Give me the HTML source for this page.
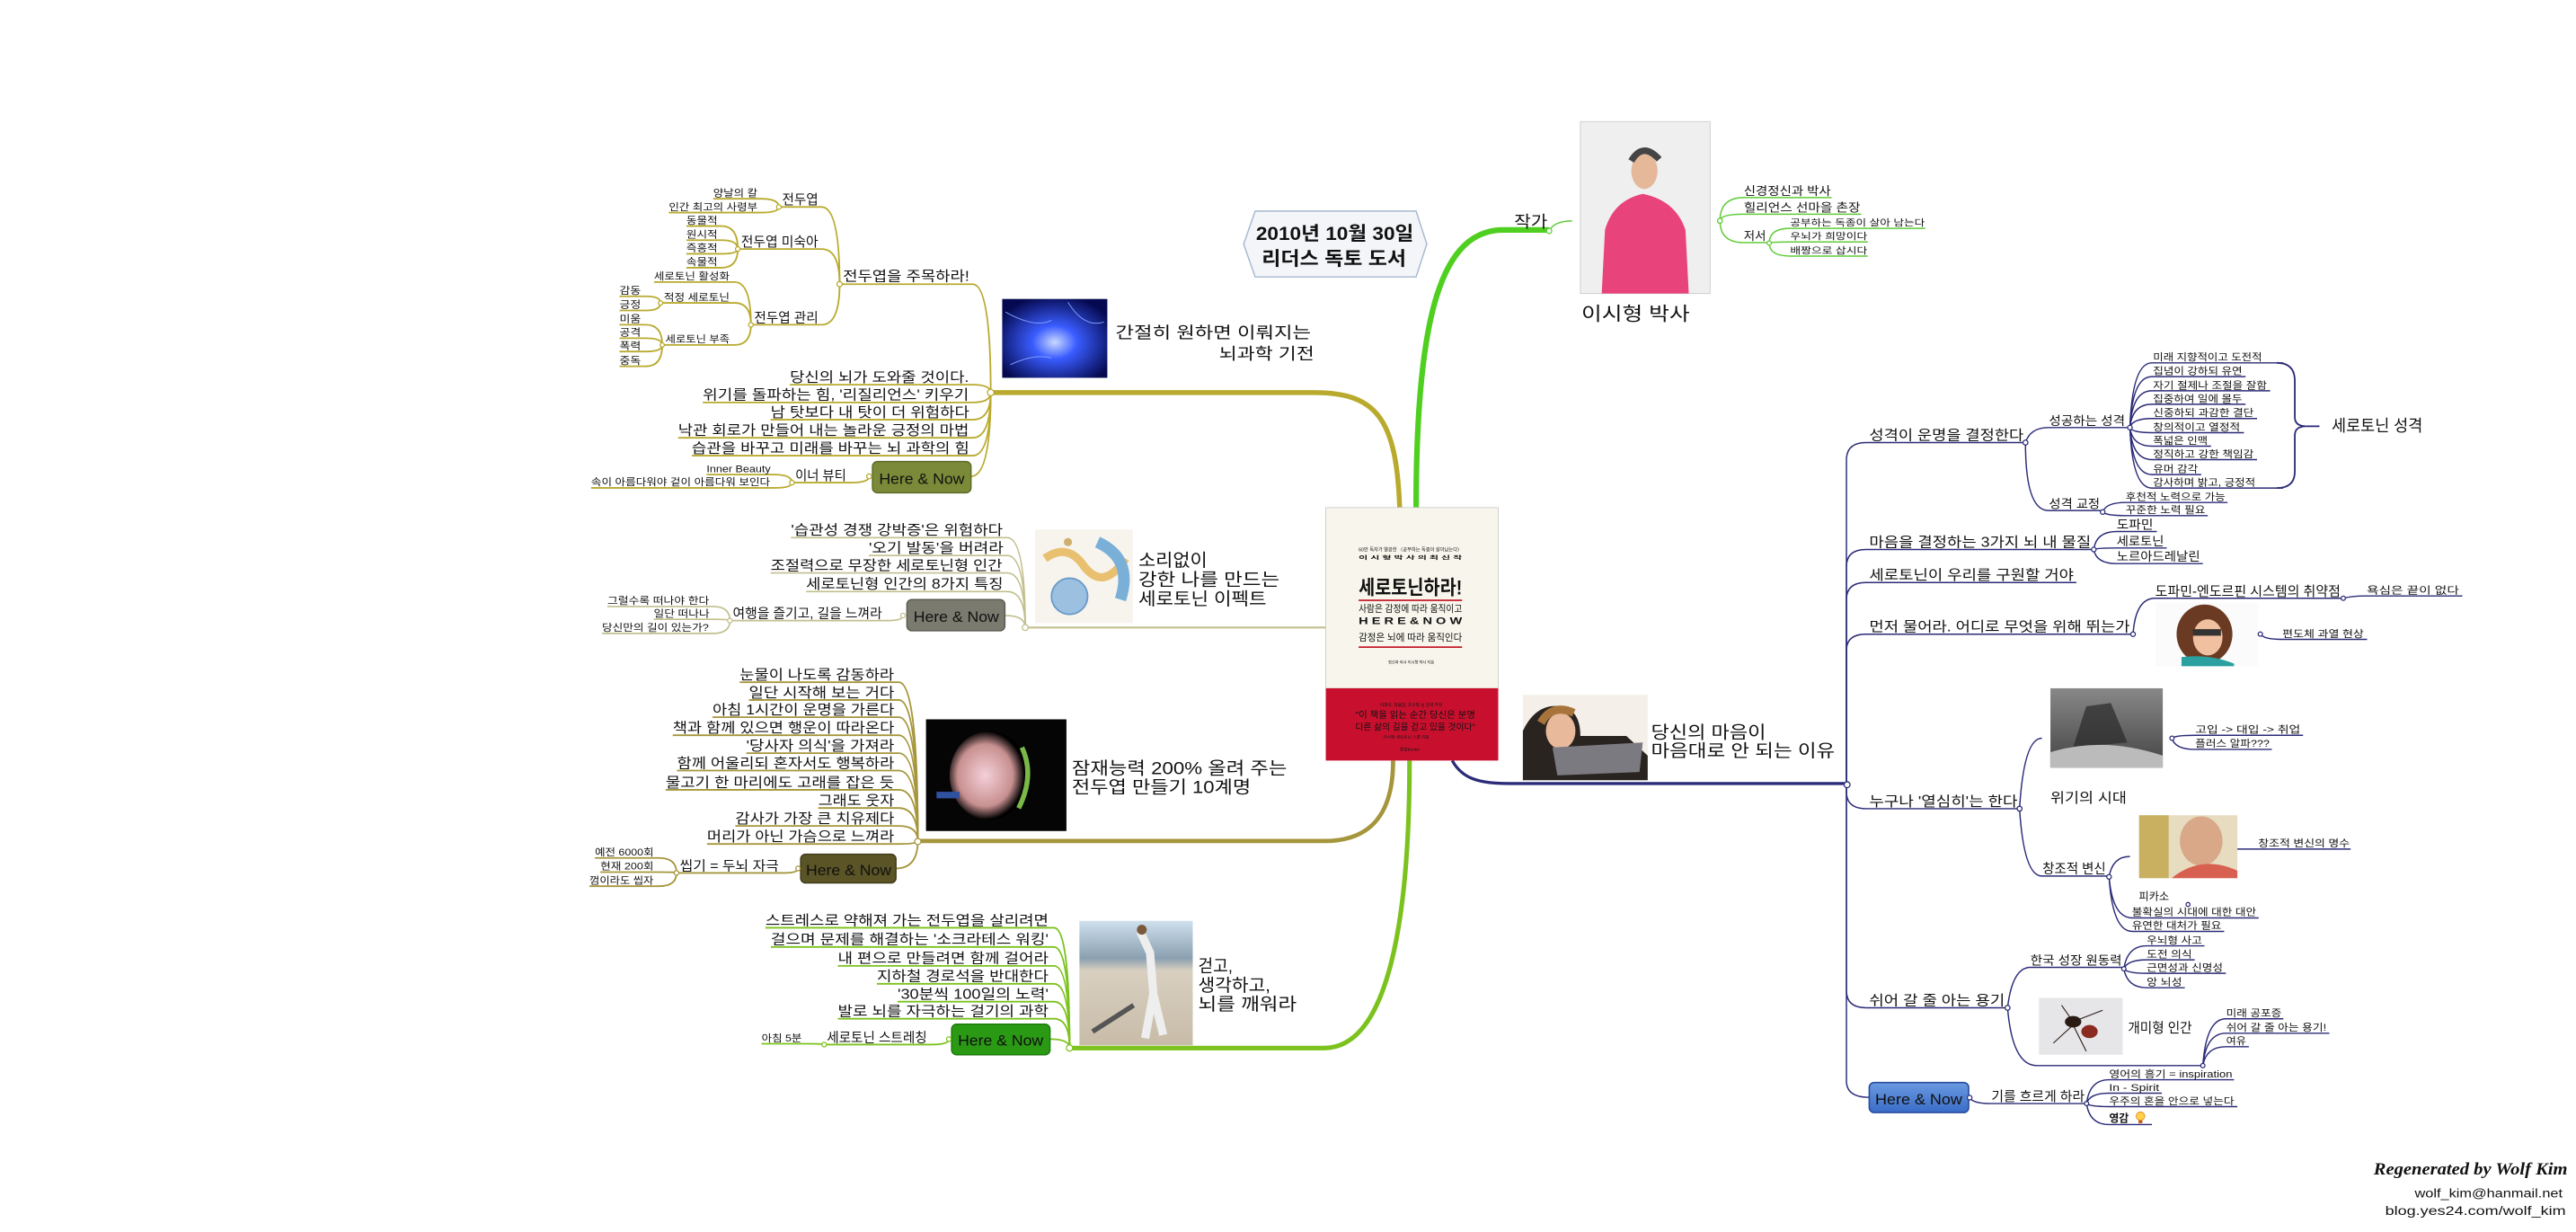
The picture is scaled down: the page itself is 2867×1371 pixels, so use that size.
<!DOCTYPE html>
<html><head><meta charset="utf-8">
<style>
html,body{margin:0;padding:0;background:#fff;}
svg{display:block;}
text{font-family:"Liberation Sans","Noto Sans CJK KR","NanumGothic",sans-serif;fill:#111;}
.a{fill:none;stroke:#b9aa2e;stroke-width:1;}
.b{fill:none;stroke:#c2bf8e;stroke-width:0.9;}
.c{fill:none;stroke:#a5963c;stroke-width:1;}
.d{fill:none;stroke:#7cc21e;stroke-width:1;}
.e{fill:none;stroke:#5fcc38;stroke-width:0.8;}
.f{fill:none;stroke:#2b2b78;stroke-width:0.8;}
.n{fill:#fff;stroke-width:0.7;}
</style></head>
<body>
<svg width="2867" height="1371" viewBox="0 0 1568 750" xmlns="http://www.w3.org/2000/svg">
<defs>
<radialGradient id="gb" cx="0.5" cy="0.55" r="0.6"><stop offset="0" stop-color="#c8d8ff"/><stop offset="0.35" stop-color="#3a5cff"/><stop offset="1" stop-color="#050a50"/></radialGradient>
<radialGradient id="gk" cx="0.45" cy="0.5" r="0.5"><stop offset="0" stop-color="#f4d0d8"/><stop offset="0.7" stop-color="#c89090"/><stop offset="1" stop-color="#000"/></radialGradient>
<linearGradient id="gr" x1="0" y1="0" x2="0" y2="1"><stop offset="0" stop-color="#cfe0ee"/><stop offset="0.3" stop-color="#8aa0b0"/><stop offset="0.4" stop-color="#d8cfc0"/><stop offset="1" stop-color="#c8bca8"/></linearGradient>
<linearGradient id="gs" x1="0" y1="0" x2="0" y2="1"><stop offset="0" stop-color="#888"/><stop offset="1" stop-color="#444"/></linearGradient>
<linearGradient id="hb" x1="0" y1="0" x2="0" y2="1"><stop offset="0" stop-color="#6a9ae0"/><stop offset="1" stop-color="#3a6cc8"/></linearGradient>
</defs>

<!-- ===== Title box ===== -->
<polygon points="757,148.6 764,128.5 862,128.5 868.5,148.6 862,168.6 764,168.6" fill="#f3f5f8" stroke="#a8b8d0" stroke-width="0.8"/>
<text x="764.5" y="146" font-size="11.5" font-weight="bold" textLength="96" lengthAdjust="spacingAndGlyphs">2010년 10월 30일</text>
<text x="768" y="161.5" font-size="11.5" font-weight="bold" textLength="88" lengthAdjust="spacingAndGlyphs">리더스 독토 도서</text>

<!-- ===== Main branches ===== -->
<path d="M852 309 C850 255 838 239 800 239 L603 239" fill="none" stroke="#b9aa2e" stroke-width="3"/>
<path d="M624 382 L807 382" fill="none" stroke="#c2bf8e" stroke-width="1.2"/>
<path d="M848 463 C848 495 835 512 806 512 L558.6 512" fill="none" stroke="#a5963c" stroke-width="2.6"/>
<path d="M858 463 C858 560 845 638 806 638 L651 638" fill="none" stroke="#7cc21e" stroke-width="2.8"/>
<path d="M862 309 C862 190 878 140 915 140 L943 140" fill="none" stroke="#4fcf1f" stroke-width="3.4"/>
<path d="M884 463 C890 474 900 477 919 477 L1124 477" fill="none" stroke="#2b2b78" stroke-width="1.8"/>

<!-- ===== Book ===== -->
<rect x="807" y="309" width="105" height="110" fill="#f8f6ec" stroke="#ccc" stroke-width="0.5"/>
<rect x="807" y="419" width="105" height="44" fill="#c8102e"/>
<text x="827" y="335.5" font-size="3" fill="#b02020" textLength="63" lengthAdjust="spacingAndGlyphs">60만 독자가 열광한 〈공부하는 독종이 살아남는다〉</text>
<text x="827" y="340.5" font-size="3.2" font-weight="bold" fill="#333" textLength="63" lengthAdjust="spacingAndGlyphs">이 시 형  박 사 의  최 신 작</text>
<text x="827" y="362" font-size="12" font-weight="bold" fill="#d0152a" textLength="63" lengthAdjust="spacingAndGlyphs">세로토닌하라!</text>
<rect x="827" y="365" width="63" height="0.9" fill="#c01020"/>
<text x="827" y="372.5" font-size="6" fill="#333" textLength="63" lengthAdjust="spacingAndGlyphs">사람은 감정에 따라 움직이고</text>
<text x="827" y="380" font-size="6" font-weight="bold" fill="#c01020" textLength="63" lengthAdjust="spacingAndGlyphs">H E R E &amp; N O W</text>
<text x="827" y="390" font-size="6" fill="#333" textLength="63" lengthAdjust="spacingAndGlyphs">감정은 뇌에 따라 움직인다</text>
<rect x="827" y="393.5" width="63" height="0.9" fill="#c01020"/>
<text x="845" y="404" font-size="2.5" fill="#777" textLength="28" lengthAdjust="spacingAndGlyphs">정신과 의사 이시형 박사 지음</text>
<text x="840" y="430" font-size="2.5" fill="#fdd" textLength="38" lengthAdjust="spacingAndGlyphs">이희아, 최불암, 조선철 님 강력 추천</text>
<text x="825" y="437" font-size="5.5" fill="#fff" textLength="73" lengthAdjust="spacingAndGlyphs">"이 책을 읽는 순간 당신은 분명</text>
<text x="825" y="444.5" font-size="5.5" fill="#fff" textLength="73" lengthAdjust="spacingAndGlyphs">다른 삶의 길을 걷고 있을 것이다"</text>
<text x="842" y="449.5" font-size="2.3" fill="#fdd" textLength="28" lengthAdjust="spacingAndGlyphs">이시형 세로토닌 스쿨 지음</text>
<text x="852" y="457" font-size="2.5" fill="#fdd" textLength="12" lengthAdjust="spacingAndGlyphs">중앙books</text>

<!-- ===== Branch 1 (olive) ===== -->
<rect x="610" y="182" width="64" height="48" fill="url(#gb)"/>
<path d="M612 190 Q630 200 640 195 M650 184 Q660 200 672 196 M615 222 Q630 215 640 218" stroke="#7fa0ff" stroke-width="0.5" fill="none"/>
<text x="679" y="206" font-size="10" textLength="119" lengthAdjust="spacingAndGlyphs">간절히 원하면 이뤄지는</text>
<text x="742" y="218.8" font-size="10" textLength="58" lengthAdjust="spacingAndGlyphs">뇌과학 기전</text>

<path class="a" d="M511 173 L592 173 Q603 173 603 239"/>
<text x="513" y="171" font-size="8.5" textLength="77" lengthAdjust="spacingAndGlyphs">전두엽을 주목하라!</text>
<path class="a" d="M480.7 234.2 L592 234.2 Q603 234.2 603 239"/>
<text x="480.7" y="232.5" font-size="8.5" textLength="109" lengthAdjust="spacingAndGlyphs">당신의 뇌가 도와줄 것이다.</text>
<path class="a" d="M427.7 245 L592 245 Q603 245 603 239"/>
<text x="427.7" y="243.3" font-size="8.5" textLength="162" lengthAdjust="spacingAndGlyphs">위기를 돌파하는 힘, '리질리언스' 키우기</text>
<path class="a" d="M469 255.5 L592 255.5 Q603 255.5 603 239"/>
<text x="469" y="253.8" font-size="8.5" textLength="121" lengthAdjust="spacingAndGlyphs">남 탓보다 내 탓이 더 위험하다</text>
<path class="a" d="M412.7 266.5 L592 266.5 Q603 266.5 603 239"/>
<text x="412.7" y="264.8" font-size="8.5" textLength="177" lengthAdjust="spacingAndGlyphs">낙관 회로가 만들어 내는 놀라운 긍정의 마법</text>
<path class="a" d="M421 277.4 L592 277.4 Q603 277.4 603 239"/>
<text x="421" y="275.7" font-size="8.5" textLength="169" lengthAdjust="spacingAndGlyphs">습관을 바꾸고 미래를 바꾸는 뇌 과학의 힘</text>
<path class="a" d="M591 290 Q603 290 603 239"/>
<rect x="531" y="281" width="60" height="19" rx="3" fill="#7a8a38" stroke="#5d6b26" stroke-width="0.8"/>
<text x="535" y="294.5" font-size="9" fill="#fff" textLength="52" lengthAdjust="spacingAndGlyphs">Here &amp; Now</text>

<path class="a" d="M474 126 L500 126 Q511 126 511 173"/>
<text x="476" y="124.3" font-size="8" textLength="22" lengthAdjust="spacingAndGlyphs">전두엽</text>
<path class="a" d="M434 121 L463 121 Q474 121 474 126"/>
<text x="434" y="119.5" font-size="6" textLength="27" lengthAdjust="spacingAndGlyphs">양날의 칼</text>
<path class="a" d="M407 129.4 L463 129.4 Q474 129.4 474 126"/>
<text x="407" y="127.9" font-size="6" textLength="54" lengthAdjust="spacingAndGlyphs">인간 최고의 사령부</text>

<path class="a" d="M449 151.6 L500 151.6 Q511 151.6 511 173"/>
<text x="451" y="149.9" font-size="8" textLength="47" lengthAdjust="spacingAndGlyphs">전두엽 미숙아</text>
<path class="a" d="M417.7 137.6 L439 137.6 Q449 137.6 449 151.6"/>
<text x="417.7" y="136.1" font-size="6" textLength="19" lengthAdjust="spacingAndGlyphs">동물적</text>
<path class="a" d="M417.7 146.2 L439 146.2 Q449 146.2 449 151.6"/>
<text x="417.7" y="144.7" font-size="6" textLength="19" lengthAdjust="spacingAndGlyphs">원시적</text>
<path class="a" d="M417.7 154.5 L439 154.5 Q449 154.5 449 151.6"/>
<text x="417.7" y="153" font-size="6" textLength="19" lengthAdjust="spacingAndGlyphs">즉흥적</text>
<path class="a" d="M417.7 163 L439 163 Q449 163 449 151.6"/>
<text x="417.7" y="161.5" font-size="6" textLength="19" lengthAdjust="spacingAndGlyphs">속물적</text>

<path class="a" d="M457 197.7 L500 197.7 Q511 197.7 511 173"/>
<text x="459" y="196" font-size="8" textLength="39" lengthAdjust="spacingAndGlyphs">전두엽 관리</text>
<path class="a" d="M398 171.7 L447 171.7 Q457 171.7 457 197.7"/>
<text x="398" y="170.2" font-size="6" textLength="46" lengthAdjust="spacingAndGlyphs">세로토닌 활성화</text>
<path class="a" d="M402 184.4 L447 184.4 Q457 184.4 457 197.7"/>
<text x="404" y="182.9" font-size="6" textLength="40" lengthAdjust="spacingAndGlyphs">적정 세로토닌</text>
<path class="a" d="M403 210 L447 210 Q457 210 457 197.7"/>
<text x="405" y="208.5" font-size="6" textLength="39" lengthAdjust="spacingAndGlyphs">세로토닌 부족</text>
<path class="a" d="M377 180.4 L393 180.4 Q402 180.4 402 184.4"/>
<text x="377" y="178.9" font-size="6" textLength="13" lengthAdjust="spacingAndGlyphs">감동</text>
<path class="a" d="M377 189 L393 189 Q402 189 402 184.4"/>
<text x="377" y="187.5" font-size="6" textLength="13" lengthAdjust="spacingAndGlyphs">긍정</text>
<path class="a" d="M377 197.7 L393 197.7 Q403 197.7 403 210"/>
<text x="377" y="196.2" font-size="6" textLength="13" lengthAdjust="spacingAndGlyphs">미움</text>
<path class="a" d="M377 205.9 L393 205.9 Q403 205.9 403 210"/>
<text x="377" y="204.4" font-size="6" textLength="13" lengthAdjust="spacingAndGlyphs">공격</text>
<path class="a" d="M377 214 L393 214 Q403 214 403 210"/>
<text x="377" y="212.5" font-size="6" textLength="13" lengthAdjust="spacingAndGlyphs">폭력</text>
<path class="a" d="M377 223 L393 223 Q403 223 403 210"/>
<text x="377" y="221.5" font-size="6" textLength="13" lengthAdjust="spacingAndGlyphs">중독</text>

<path class="a" d="M482 293.8 L518 293.8 Q529 293.8 529 290"/>
<text x="484" y="292.1" font-size="8" textLength="31" lengthAdjust="spacingAndGlyphs">이너 뷰티</text>
<path class="a" d="M430 288.9 L471 288.9 Q482 288.9 482 293.8"/>
<text x="430" y="287.4" font-size="6" textLength="39" lengthAdjust="spacingAndGlyphs">Inner Beauty</text>
<path class="a" d="M359.7 297 L471 297 Q482 297 482 293.8"/>
<text x="359.7" y="295.5" font-size="6" textLength="109" lengthAdjust="spacingAndGlyphs">속이 아름다워야 겉이 아름다워 보인다</text>
<g fill="#fff" stroke="#b9aa2e" stroke-width="0.7">
<circle cx="603" cy="239" r="2"/><circle cx="511" cy="173" r="1.6"/><circle cx="474" cy="126" r="1.4"/><circle cx="449" cy="151.6" r="1.4"/><circle cx="457" cy="197.7" r="1.4"/><circle cx="402" cy="184.4" r="1.3"/><circle cx="403" cy="210" r="1.3"/><circle cx="529" cy="290" r="1.5"/><circle cx="482" cy="293.8" r="1.4"/>
</g>

<!-- ===== Branch 2 ===== -->
<rect x="630" y="322.3" width="59.5" height="57" fill="#f7f4ee"/>
<path d="M636 340 Q650 330 660 345 Q672 360 685 340" stroke="#e8c070" stroke-width="5" fill="none"/>
<path d="M668 330 Q690 340 682 365" stroke="#7ab0d8" stroke-width="7" fill="none"/>
<circle cx="651" cy="363" r="11" fill="#9cc0e0" stroke="#6a9ac8" stroke-width="1"/>
<circle cx="650" cy="330" r="2.5" fill="#d0b070"/>
<text x="692.9" y="344.6" font-size="10.5" textLength="42" lengthAdjust="spacingAndGlyphs">소리없이</text>
<text x="692.9" y="356.4" font-size="10.5" textLength="86" lengthAdjust="spacingAndGlyphs">강한 나를 만드는</text>
<text x="692.9" y="368.3" font-size="10.5" textLength="78" lengthAdjust="spacingAndGlyphs">세로토닌 이펙트</text>

<path class="b" d="M481.4 327.3 L613 327.3 Q624 327.3 624 382"/>
<text x="481.4" y="325.6" font-size="8.5" textLength="129" lengthAdjust="spacingAndGlyphs">'습관성 경쟁 강박증'은 위험하다</text>
<path class="b" d="M528.8 338.2 L613 338.2 Q624 338.2 624 382"/>
<text x="528.8" y="336.5" font-size="8.5" textLength="82" lengthAdjust="spacingAndGlyphs">'오기 발동'을 버려라</text>
<path class="b" d="M469 348.8 L613 348.8 Q624 348.8 624 382"/>
<text x="469" y="347.1" font-size="8.5" textLength="141" lengthAdjust="spacingAndGlyphs">조절력으로 무장한 세로토닌형 인간</text>
<path class="b" d="M490.6 360.1 L613 360.1 Q624 360.1 624 382"/>
<text x="490.6" y="358.4" font-size="8.5" textLength="120" lengthAdjust="spacingAndGlyphs">세로토닌형 인간의 8가지 특징</text>
<path class="b" d="M611.6 374.7 Q624 374.7 624 382"/>
<rect x="552" y="365" width="59.6" height="19" rx="3" fill="#7a7a6e" stroke="#5a5a50" stroke-width="0.8"/>
<text x="556" y="378.5" font-size="9" fill="#fff" textLength="52" lengthAdjust="spacingAndGlyphs">Here &amp; Now</text>
<path class="b" d="M444.2 377.8 L540 377.8 Q549.6 377.8 549.6 374.7"/>
<text x="445.9" y="376.1" font-size="8" textLength="91" lengthAdjust="spacingAndGlyphs">여행을 즐기고, 길을 느껴라</text>
<path class="b" d="M369.6 369.2 L434 369.2 Q444.2 369.2 444.2 377.8"/>
<text x="369.6" y="367.7" font-size="6" textLength="62" lengthAdjust="spacingAndGlyphs">그럴수록 떠나야 한다</text>
<path class="b" d="M397.8 377 L434 377 Q444.2 377 444.2 377.8"/>
<text x="397.8" y="375.5" font-size="6" textLength="34" lengthAdjust="spacingAndGlyphs">일단 떠나나</text>
<path class="b" d="M366.3 385.6 L434 385.6 Q444.2 385.6 444.2 377.8"/>
<text x="366.3" y="384.1" font-size="6" textLength="65" lengthAdjust="spacingAndGlyphs">당신만의 길이 있는가?</text>
<g fill="#fff" stroke="#c2bf8e" stroke-width="0.7"><circle cx="624" cy="382" r="1.8"/><circle cx="549.6" cy="374.7" r="1.4"/><circle cx="444.2" cy="377.8" r="1.4"/></g>

<!-- ===== Branch 3 ===== -->
<rect x="563.6" y="437.9" width="85.5" height="68" fill="#050505"/>
<ellipse cx="602" cy="472" rx="24" ry="27" fill="url(#gk)"/>
<path d="M622 455 Q630 472 620 492" stroke="#7ab848" stroke-width="3" fill="none"/>
<rect x="570" y="482" width="14" height="4" fill="#3050a0"/>
<text x="652.4" y="471.3" font-size="10.5" textLength="131" lengthAdjust="spacingAndGlyphs">잠재능력 200% 올려 주는</text>
<text x="652.4" y="482.8" font-size="10.5" textLength="109" lengthAdjust="spacingAndGlyphs">전두엽 만들기 10계명</text>

<path class="c" d="M450.2 415.3 L547 415.3 Q558.6 415.3 558.6 512"/>
<text x="450.2" y="413.6" font-size="8.5" textLength="94" lengthAdjust="spacingAndGlyphs">눈물이 나도록 감동하라</text>
<path class="c" d="M455.8 426.1 L547 426.1 Q558.6 426.1 558.6 512"/>
<text x="455.8" y="424.4" font-size="8.5" textLength="88.5" lengthAdjust="spacingAndGlyphs">일단 시작해 보는 거다</text>
<path class="c" d="M433.6 436.6 L547 436.6 Q558.6 436.6 558.6 512"/>
<text x="433.6" y="434.9" font-size="8.5" textLength="110.7" lengthAdjust="spacingAndGlyphs">아침 1시간이 운명을 가른다</text>
<path class="c" d="M409.4 447.6 L547 447.6 Q558.6 447.6 558.6 512"/>
<text x="409.4" y="445.9" font-size="8.5" textLength="134.9" lengthAdjust="spacingAndGlyphs">책과 함께 있으면 행운이 따라온다</text>
<path class="c" d="M454.2 458.5 L547 458.5 Q558.6 458.5 558.6 512"/>
<text x="454.2" y="456.8" font-size="8.5" textLength="90.1" lengthAdjust="spacingAndGlyphs">'당사자 의식'을 가져라</text>
<path class="c" d="M412 469.1 L547 469.1 Q558.6 469.1 558.6 512"/>
<text x="412" y="467.4" font-size="8.5" textLength="132.3" lengthAdjust="spacingAndGlyphs">함께 어울리되 혼자서도 행복하라</text>
<path class="c" d="M405.1 480.8 L547 480.8 Q558.6 480.8 558.6 512"/>
<text x="405.1" y="479.1" font-size="8.5" textLength="139.2" lengthAdjust="spacingAndGlyphs">물고기 한 마리에도 고래를 잡은 듯</text>
<path class="c" d="M498 491.9 L547 491.9 Q558.6 491.9 558.6 512"/>
<text x="498" y="490.2" font-size="8.5" textLength="46.3" lengthAdjust="spacingAndGlyphs">그래도 웃자</text>
<path class="c" d="M447.5 502.8 L547 502.8 Q558.6 502.8 558.6 512"/>
<text x="447.5" y="501.1" font-size="8.5" textLength="96.8" lengthAdjust="spacingAndGlyphs">감사가 가장 큰 치유제다</text>
<path class="c" d="M430.3 513.8 L547 513.8 Q558.6 513.8 558.6 512"/>
<text x="430.3" y="512.1" font-size="8.5" textLength="114" lengthAdjust="spacingAndGlyphs">머리가 아닌 가슴으로 느껴라</text>
<path class="c" d="M545 528.7 Q558.6 528.7 558.6 512"/>
<rect x="487.3" y="520" width="58" height="17.5" rx="3" fill="#5a5426" stroke="#3e3a18" stroke-width="0.8"/>
<text x="490.5" y="532.7" font-size="9" fill="#fff" textLength="52" lengthAdjust="spacingAndGlyphs">Here &amp; Now</text>
<path class="c" d="M411.7 531.4 L477 531.4 Q485.7 531.4 485.7 528.7"/>
<text x="413.7" y="529.7" font-size="8" textLength="60.3" lengthAdjust="spacingAndGlyphs">씹기 =  두뇌 자극</text>
<path class="c" d="M362 522.3 L401 522.3 Q411.7 522.3 411.7 531.4"/>
<text x="362" y="520.8" font-size="6" textLength="35.8" lengthAdjust="spacingAndGlyphs">예전 6000회</text>
<path class="c" d="M365.3 530.9 L401 530.9 Q411.7 530.9 411.7 531.4"/>
<text x="365.3" y="529.4" font-size="6" textLength="32.5" lengthAdjust="spacingAndGlyphs">현재 200회</text>
<path class="c" d="M358.7 539.5 L401 539.5 Q411.7 539.5 411.7 531.4"/>
<text x="358.7" y="538" font-size="6" textLength="39" lengthAdjust="spacingAndGlyphs">껌이라도 씹자</text>
<g fill="#fff" stroke="#a5963c" stroke-width="0.7"><circle cx="558.6" cy="512.3" r="1.9"/><circle cx="485.7" cy="528.7" r="1.4"/><circle cx="411.7" cy="531.4" r="1.4"/></g>

<!-- ===== Branch 4 ===== -->
<rect x="657" y="560.6" width="69" height="75.7" fill="url(#gr)"/>
<path d="M694 567 L700 580 L702 605 L697 632 M702 605 L708 630" stroke="#eee" stroke-width="5" fill="none"/>
<circle cx="695" cy="566" r="3" fill="#7a5a3a"/>
<path d="M665 628 L690 612" stroke="#555" stroke-width="3"/>
<text x="729.3" y="591.6" font-size="10.5" textLength="21" lengthAdjust="spacingAndGlyphs">걷고,</text>
<text x="729.3" y="603.5" font-size="10.5" textLength="44" lengthAdjust="spacingAndGlyphs">생각하고,</text>
<text x="729.3" y="614.8" font-size="10.5" textLength="60" lengthAdjust="spacingAndGlyphs">뇌를 깨워라</text>

<path class="d" d="M465.8 564.8 L641.5 564.8 Q651 564.8 651 638"/>
<text x="465.8" y="563.1" font-size="8.5" textLength="172.4" lengthAdjust="spacingAndGlyphs">스트레스로 약해져 가는 전두엽을 살리려면</text>
<path class="d" d="M469.1 576.5 L641.5 576.5 Q651 576.5 651 638"/>
<text x="469.1" y="574.8" font-size="8.5" textLength="169.1" lengthAdjust="spacingAndGlyphs">걸으며 문제를 해결하는 '소크라테스 워킹'</text>
<path class="d" d="M509.9 588 L641.5 588 Q651 588 651 638"/>
<text x="509.9" y="586.3" font-size="8.5" textLength="128.3" lengthAdjust="spacingAndGlyphs">내 편으로 만들려면 함께 걸어라</text>
<path class="d" d="M533.7 598.9 L641.5 598.9 Q651 598.9 651 638"/>
<text x="533.7" y="597.2" font-size="8.5" textLength="104.5" lengthAdjust="spacingAndGlyphs">지하철 경로석을 반대한다</text>
<path class="d" d="M546.3 609.8 L641.5 609.8 Q651 609.8 651 638"/>
<text x="546.3" y="608.1" font-size="8.5" textLength="91.9" lengthAdjust="spacingAndGlyphs">'30분씩 100일의 노력'</text>
<path class="d" d="M509.9 620.2 L641.5 620.2 Q651 620.2 651 638"/>
<text x="509.9" y="618.5" font-size="8.5" textLength="128.3" lengthAdjust="spacingAndGlyphs">발로 뇌를 자극하는 걸기의 과학</text>
<path class="d" d="M639 632.6 Q651 632.6 651 638"/>
<rect x="579.2" y="623.5" width="59.9" height="18.6" rx="3" fill="#2a9a14" stroke="#1c7a0c" stroke-width="0.8"/>
<text x="583" y="636.6" font-size="9" fill="#fff" textLength="52" lengthAdjust="spacingAndGlyphs">Here &amp; Now</text>
<path class="d" d="M501.6 635.9 L567 635.9 Q577.5 635.9 577.5 632.6"/>
<text x="503.2" y="634.2" font-size="8" textLength="61" lengthAdjust="spacingAndGlyphs">세로토닌 스트레칭</text>
<path class="d" d="M463.5 635.4 L491 635.4 Q501.6 635.4 501.6 635.9"/>
<text x="463.5" y="633.9" font-size="6" textLength="24.5" lengthAdjust="spacingAndGlyphs">아침 5분</text>
<g fill="#fff" stroke="#7cc21e" stroke-width="0.7"><circle cx="651" cy="638" r="1.9"/><circle cx="577.5" cy="632.6" r="1.4"/><circle cx="501.6" cy="635.9" r="1.4"/></g>

<!-- ===== Branch 5 (author) ===== -->
<text x="921.7" y="138.5" font-size="10" textLength="20.3" lengthAdjust="spacingAndGlyphs">작가</text>
<path class="e" d="M943 140.6 Q946 134.5 957 134.5"/>
<rect x="962" y="74" width="79" height="104.7" fill="#efeff0" stroke="#ccc" stroke-width="0.5"/>
<path d="M975 178.7 L977 140 Q982 122 1000 118 Q1020 122 1026 140 L1028 178.7 Z" fill="#e8437a"/>
<ellipse cx="1001" cy="104" rx="8" ry="11" fill="#e6b89a"/>
<path d="M993 98 Q1000 86 1010 97" stroke="#444" stroke-width="4" fill="none"/>
<text x="962.6" y="195" font-size="11.5" textLength="66" lengthAdjust="spacingAndGlyphs">이시형 박사</text>
<path class="e" d="M1047 134.4 Q1047 120.3 1061.5 120.3 L1115 120.3"/>
<text x="1061.5" y="118.8" font-size="7" textLength="53" lengthAdjust="spacingAndGlyphs">신경정신과 박사</text>
<path class="e" d="M1047 134.4 Q1047 130.4 1061.5 130.4 L1133 130.4"/>
<text x="1061.5" y="128.9" font-size="7" textLength="71" lengthAdjust="spacingAndGlyphs">힐리언스 선마을 촌장</text>
<path class="e" d="M1047 134.4 Q1047 147.7 1061.5 147.7 L1077 147.7"/>
<text x="1061.5" y="146.2" font-size="7" textLength="13.5" lengthAdjust="spacingAndGlyphs">저서</text>
<path class="e" d="M1077 148 Q1077 139 1089.7 139 L1172 139"/>
<text x="1089.7" y="137.6" font-size="5.5" textLength="82" lengthAdjust="spacingAndGlyphs">공부하는 독종이 살아 남는다</text>
<path class="e" d="M1077 148 Q1077 147.3 1089.7 147.3 L1137 147.3"/>
<text x="1089.7" y="145.9" font-size="5.5" textLength="47" lengthAdjust="spacingAndGlyphs">우뇌가 희망이다</text>
<path class="e" d="M1077 148 Q1077 155.9 1089.7 155.9 L1137 155.9"/>
<text x="1089.7" y="154.5" font-size="5.5" textLength="47" lengthAdjust="spacingAndGlyphs">배짱으로 삽시다</text>
<g fill="#fff" stroke="#5fcc38" stroke-width="0.7"><circle cx="943" cy="140.6" r="1.6"/><circle cx="1047" cy="134.4" r="1.5"/><circle cx="1077" cy="148" r="1.3"/></g>

<!-- ===== Branch 6 (navy) ===== -->
<rect x="927" y="423" width="76" height="52" fill="#f4efe8"/>
<path d="M927 475 L927 445 Q935 428 950 430 Q962 432 962 448 L990 448 L1003 460 L1003 475 Z" fill="#2a2420"/>
<ellipse cx="950" cy="445" rx="9" ry="11" fill="#e9b99c"/>
<path d="M945 455 L1000 452 L998 470 L948 472 Z" fill="#7a7a80"/>
<path d="M938 440 Q945 428 958 434" stroke="#a8743c" stroke-width="5" fill="none"/>
<text x="1005" y="449.5" font-size="10.5" textLength="70" lengthAdjust="spacingAndGlyphs">당신의 마음이</text>
<text x="1005" y="460.6" font-size="10.5" textLength="112" lengthAdjust="spacingAndGlyphs">마음대로 안 되는 이유</text>

<!-- trunk connectors -->
<path class="f" d="M1124 477 L1124 280 Q1124 269.4 1136 269.4 L1233 269.4"/>
<text x="1137.9" y="267.7" font-size="8.5" textLength="94" lengthAdjust="spacingAndGlyphs">성격이 운명을 결정한다</text>
<path class="f" d="M1124 477 L1124 345 Q1124 334.5 1136 334.5 L1274.6 334.5"/>
<text x="1137.9" y="332.8" font-size="8.5" textLength="135" lengthAdjust="spacingAndGlyphs">마음을 결정하는 3가지 뇌 내 물질</text>
<path class="f" d="M1124 477 L1124 365 Q1124 354.6 1136 354.6 L1264 354.6"/>
<text x="1137.9" y="352.9" font-size="8.5" textLength="124.5" lengthAdjust="spacingAndGlyphs">세로토닌이 우리를 구원할 거야</text>
<path class="f" d="M1124 477 L1124 396 Q1124 386.1 1136 386.1 L1298.5 386.1"/>
<text x="1137.9" y="384.4" font-size="8.5" textLength="158.7" lengthAdjust="spacingAndGlyphs">먼저 물어라. 어디로 무엇을 위해 뛰는가</text>
<path class="f" d="M1124 477 L1124 482 Q1124 492.3 1136 492.3 L1229.4 492.3"/>
<text x="1137.9" y="490.6" font-size="8.5" textLength="90.3" lengthAdjust="spacingAndGlyphs">누구나 '열심히'는 한다</text>
<path class="f" d="M1124 477 L1124 603 Q1124 613.5 1136 613.5 L1222.1 613.5"/>
<text x="1137.9" y="611.8" font-size="8.5" textLength="82.5" lengthAdjust="spacingAndGlyphs">쉬어 갈 줄 아는 용기</text>
<path class="f" d="M1124 477 L1124 658 Q1124 668 1138 668"/>
<rect x="1137.9" y="659" width="60.5" height="18.3" rx="3" fill="url(#hb)" stroke="#2a4ea0" stroke-width="0.9"/>
<text x="1141.5" y="672.2" font-size="9" fill="#fff" textLength="53" lengthAdjust="spacingAndGlyphs">Here &amp; Now</text>

<!-- 성격이 운명을 -->
<path class="f" d="M1233 269.4 Q1236 260.3 1247 260.3 L1296.6 260.3"/>
<text x="1247.3" y="258.8" font-size="7.5" textLength="46.3" lengthAdjust="spacingAndGlyphs">성공하는 성격</text>
<path class="f" d="M1233 269.4 Q1233 310.8 1247 310.8 L1280 310.8"/>
<text x="1247.3" y="309.3" font-size="7.5" textLength="31" lengthAdjust="spacingAndGlyphs">성격 교정</text>
<g class="f">
<path d="M1296.6 260.3 Q1298 220.9 1310 220.9 L1390 220.9"/>
<path d="M1296.6 260.3 Q1298 229.3 1310 229.3 L1367 229.3"/>
<path d="M1296.6 260.3 Q1298 237.9 1310 237.9 L1382 237.9"/>
<path d="M1296.6 260.3 Q1298 246.1 1310 246.1 L1367 246.1"/>
<path d="M1296.6 260.3 Q1298 254.8 1310 254.8 L1374 254.8"/>
<path d="M1296.6 260.3 Q1298 263.4 1310 263.4 L1366 263.4"/>
<path d="M1296.6 260.3 Q1298 271.6 1310 271.6 L1346 271.6"/>
<path d="M1296.6 260.3 Q1298 279.8 1310 279.8 L1374 279.8"/>
<path d="M1296.6 260.3 Q1298 288.9 1310 288.9 L1340 288.9"/>
<path d="M1296.6 260.3 Q1298 297.1 1310 297.1 L1390 297.1"/>
<path d="M1386 220.9 Q1397 220.9 1397 232 L1397 254 Q1397 259.5 1404 259.5 Q1397 259.5 1397 265 L1397 287 Q1397 297.1 1386 297.1" stroke-width="1"/>
<path d="M1404 259.5 L1412 259.5" stroke-width="1"/>
</g>
<g font-size="6">
<text x="1310.7" y="219.5" textLength="66.3" lengthAdjust="spacingAndGlyphs">미래 지향적이고 도전적</text>
<text x="1310.7" y="227.9" textLength="54.3" lengthAdjust="spacingAndGlyphs">집념이 강하되 유연</text>
<text x="1310.7" y="236.5" textLength="69.3" lengthAdjust="spacingAndGlyphs">자기 절제나 조절을 잘함</text>
<text x="1310.7" y="244.7" textLength="54.3" lengthAdjust="spacingAndGlyphs">집중하여 일에 몰두</text>
<text x="1310.7" y="253.4" textLength="61.3" lengthAdjust="spacingAndGlyphs">신중하되 과감한 결단</text>
<text x="1310.7" y="262" textLength="53" lengthAdjust="spacingAndGlyphs">창의적이고 열정적</text>
<text x="1310.7" y="270.2" textLength="33.3" lengthAdjust="spacingAndGlyphs">폭넓은 인맥</text>
<text x="1310.7" y="278.4" textLength="61.3" lengthAdjust="spacingAndGlyphs">정직하고 강한 책임감</text>
<text x="1310.7" y="287.5" textLength="27.3" lengthAdjust="spacingAndGlyphs">유머 감각</text>
<text x="1310.7" y="295.7" textLength="62.3" lengthAdjust="spacingAndGlyphs">감사하며 밝고, 긍정적</text>
</g>
<text x="1419.4" y="262.5" font-size="10" textLength="55.4" lengthAdjust="spacingAndGlyphs">세로토닌 성격</text>
<path class="f" d="M1280 311.7 Q1282 305.9 1294 305.9 L1356 305.9"/>
<text x="1294" y="304.4" font-size="6" textLength="60.7" lengthAdjust="spacingAndGlyphs">후천적 노력으로 가능</text>
<path class="f" d="M1280 311.7 Q1282 313.9 1294 313.9 L1344 313.9"/>
<text x="1294" y="312.4" font-size="6" textLength="48.5" lengthAdjust="spacingAndGlyphs">꾸준한 노력 필요</text>

<!-- 3가지 뇌 내 물질 -->
<path class="f" d="M1274.6 334.5 Q1276 323.6 1288.5 323.6 L1313 323.6"/>
<text x="1288.5" y="322" font-size="7.5" textLength="22.3" lengthAdjust="spacingAndGlyphs">도파민</text>
<path class="f" d="M1274.6 334.5 Q1276 333.6 1288.5 333.6 L1319 333.6"/>
<text x="1288.5" y="332" font-size="7.5" textLength="28.8" lengthAdjust="spacingAndGlyphs">세로토닌</text>
<path class="f" d="M1274.6 334.5 Q1276 343.1 1288.5 343.1 L1341 343.1"/>
<text x="1288.5" y="341.5" font-size="7.5" textLength="50.8" lengthAdjust="spacingAndGlyphs">노르아드레날린</text>

<!-- 먼저 물어라 -->
<path class="f" d="M1298.5 386.1 Q1300 364.2 1312 364.2 L1426.5 364.2"/>
<text x="1312" y="362.6" font-size="8" textLength="112.8" lengthAdjust="spacingAndGlyphs">도파민-엔도르핀 시스템의 취약점</text>
<path class="f" d="M1426.5 364.2 Q1432 362.8 1440 362.8 L1499 362.8"/>
<text x="1440.7" y="361.4" font-size="6" textLength="56.3" lengthAdjust="spacingAndGlyphs">욕심은 끝이 없다</text>
<rect x="1312" y="367" width="62.7" height="38.6" fill="#fbfbfb"/>
<ellipse cx="1342" cy="386" rx="17" ry="18" fill="#6a3a22"/>
<ellipse cx="1344" cy="388" rx="9" ry="11" fill="#f0c0a0"/>
<rect x="1335" y="383" width="17" height="4" fill="#333"/>
<path d="M1328 400 Q1345 398 1360 404 L1360 405.6 L1328 405.6 Z" fill="#2aa0a0"/>
<path class="f" d="M1376 386 Q1378 389.2 1389 389.2 L1441 389.2"/>
<text x="1389.4" y="387.8" font-size="6" textLength="49.6" lengthAdjust="spacingAndGlyphs">편도체 과열 현상</text>

<!-- 누구나 열심히 -->
<path class="f" d="M1229.4 492.3 Q1232 449.4 1243 449.4"/>
<rect x="1248.2" y="419" width="68.4" height="48.3" fill="url(#gs)"/>
<path d="M1262 455 L1270 430 L1285 428 L1295 452 Z" fill="#2a2a2a" opacity="0.7"/>
<path d="M1248 458 Q1280 448 1316.6 460 L1316.6 467.3 L1248 467.3 Z" fill="#bbb"/>
<text x="1248.2" y="488.6" font-size="8.5" textLength="46.4" lengthAdjust="spacingAndGlyphs">위기의 시대</text>
<path class="f" d="M1322.2 449.4 Q1324 447.6 1336.4 447.6 L1402 447.6"/>
<text x="1336.4" y="446.1" font-size="6" textLength="64" lengthAdjust="spacingAndGlyphs">고입 -&gt; 대입 -&gt; 취업</text>
<path class="f" d="M1322.2 449.4 Q1324 456.2 1336.4 456.2 L1383 456.2"/>
<text x="1336.4" y="454.7" font-size="6" textLength="45.2" lengthAdjust="spacingAndGlyphs">플러스 알파???</text>
<path class="f" d="M1229.4 492.3 Q1232 533.3 1243 533.3 L1283.9 533.3"/>
<text x="1243.4" y="531.6" font-size="8" textLength="38.5" lengthAdjust="spacingAndGlyphs">창조적 변신</text>
<path class="f" d="M1283.9 533.8 Q1286 521.4 1296.6 521.4"/>
<rect x="1302.2" y="496.3" width="59.8" height="38.3" fill="#e8dcc0"/>
<rect x="1302.2" y="496.3" width="18" height="38.3" fill="#c8b060"/>
<ellipse cx="1340" cy="512" rx="13" ry="15" fill="#d8a888"/>
<path d="M1322 534.6 Q1340 520 1362 530 L1362 534.6 Z" fill="#d86050"/>
<path class="f" d="M1362 516.9 L1431 516.9"/>
<text x="1374.7" y="515.4" font-size="6" textLength="55.7" lengthAdjust="spacingAndGlyphs">창조적 변신의 명수</text>
<text x="1302" y="548" font-size="6.5" textLength="18.5" lengthAdjust="spacingAndGlyphs">피카소</text>
<path class="f" d="M1283.9 533.8 Q1286 558.8 1298 558.8 L1375 558.8"/>
<text x="1297.8" y="557.3" font-size="6" textLength="75.7" lengthAdjust="spacingAndGlyphs">불확실의 시대에 대한 대안</text>
<path class="f" d="M1283.9 533.8 Q1286 567 1298 567 L1354 567"/>
<text x="1297.8" y="565.5" font-size="6" textLength="54.5" lengthAdjust="spacingAndGlyphs">유연한 대처가 필요</text>

<!-- 쉬어 갈 줄 -->
<path class="f" d="M1222.1 613.5 Q1225 588.9 1236 588.9 L1292.9 588.9"/>
<text x="1236" y="587.3" font-size="7.5" textLength="55.7" lengthAdjust="spacingAndGlyphs">한국 성장 원동력</text>
<path class="f" d="M1292.9 589.8 Q1295 575.8 1306.8 575.8 L1342 575.8"/>
<text x="1306.8" y="574.3" font-size="6" textLength="33.7" lengthAdjust="spacingAndGlyphs">우뇌형 사고</text>
<path class="f" d="M1292.9 589.8 Q1295 584.3 1306.8 584.3 L1336 584.3"/>
<text x="1306.8" y="582.8" font-size="6" textLength="27.6" lengthAdjust="spacingAndGlyphs">도전 의식</text>
<path class="f" d="M1292.9 589.8 Q1295 592.5 1306.8 592.5 L1355 592.5"/>
<text x="1306.8" y="591" font-size="6" textLength="46.4" lengthAdjust="spacingAndGlyphs">근면성과 신명성</text>
<path class="f" d="M1292.9 589.8 Q1295 601.3 1306.8 601.3 L1330 601.3"/>
<text x="1306.8" y="599.8" font-size="6" textLength="21.5" lengthAdjust="spacingAndGlyphs">앙 뇌성</text>
<rect x="1241.2" y="607.5" width="51" height="34.6" fill="#e6e6e8"/>
<ellipse cx="1262" cy="622" rx="5" ry="3.5" fill="#2a1a14"/>
<ellipse cx="1272" cy="628" rx="5" ry="4" fill="#8a2a20"/>
<path d="M1250 635 L1262 624 L1270 640 M1255 612 L1262 622 L1280 615" stroke="#2a1a14" stroke-width="0.6" fill="none"/>
<text x="1295.4" y="628.6" font-size="8.5" textLength="39" lengthAdjust="spacingAndGlyphs">개미형 인간</text>
<path class="f" d="M1222.1 613.5 Q1225 648.7 1240 648.7 L1341 648.7"/>
<path class="f" d="M1341 648.7 Q1343 620.2 1355 620.2 L1390 620.2"/>
<text x="1355.2" y="618.7" font-size="6" textLength="33.7" lengthAdjust="spacingAndGlyphs">미래 공포증</text>
<path class="f" d="M1341 648.7 Q1343 629 1355 629 L1418 629"/>
<text x="1355.2" y="627.5" font-size="6" textLength="61" lengthAdjust="spacingAndGlyphs">쉬어 갈 줄 아는 용기!</text>
<path class="f" d="M1341 648.7 Q1343 637.2 1355 637.2 L1369 637.2"/>
<text x="1355.2" y="635.7" font-size="6" textLength="12.2" lengthAdjust="spacingAndGlyphs">여유</text>

<!-- Here & Now blue -->
<path class="f" d="M1199 668.2 Q1201 671.8 1212 671.8 L1270.2 671.8"/>
<text x="1212.3" y="670.2" font-size="8" textLength="56.7" lengthAdjust="spacingAndGlyphs">기를 흐르게 하라</text>
<path class="f" d="M1270.2 671.8 Q1272 657.3 1283.9 657.3 L1360 657.3"/>
<text x="1283.9" y="655.8" font-size="6" textLength="75" lengthAdjust="spacingAndGlyphs">영어의 흥기 = inspiration</text>
<path class="f" d="M1270.2 671.8 Q1272 665.5 1283.9 665.5 L1316 665.5"/>
<text x="1283.9" y="664" font-size="6" textLength="30.5" lengthAdjust="spacingAndGlyphs">In - Spirit</text>
<path class="f" d="M1270.2 671.8 Q1272 673.7 1283.9 673.7 L1362 673.7"/>
<text x="1283.9" y="672.2" font-size="6" textLength="76.2" lengthAdjust="spacingAndGlyphs">우주의 혼을 안으로 넣는다</text>
<path class="f" d="M1270.2 671.8 Q1272 684.6 1283.9 684.6 L1310 684.6"/>
<text x="1283.9" y="683.1" font-size="6.5" font-weight="bold" fill="#1a2a6a" textLength="12" lengthAdjust="spacingAndGlyphs">영감</text>
<circle cx="1303" cy="679.5" r="2.6" fill="#ffd24a" stroke="#e08a20" stroke-width="0.5"/>
<rect x="1301.8" y="682" width="2.4" height="1.8" fill="#c06020"/>

<g fill="#fff" stroke="#2b2b78" stroke-width="0.7">
<circle cx="1124.4" cy="477.7" r="1.8"/><circle cx="1233" cy="269.4" r="1.5"/><circle cx="1296.6" cy="260.3" r="1.4"/><circle cx="1280" cy="311.7" r="1.4"/><circle cx="1274.6" cy="334.5" r="1.4"/><circle cx="1298.5" cy="386.1" r="1.4"/><circle cx="1426.5" cy="364.2" r="1.3"/><circle cx="1376" cy="386" r="1.3"/><circle cx="1229.4" cy="492.3" r="1.5"/><circle cx="1322.2" cy="449.4" r="1.3"/><circle cx="1283.9" cy="533.8" r="1.4"/><circle cx="1332" cy="550.6" r="1.2"/><circle cx="1222.1" cy="613.5" r="1.5"/><circle cx="1292.9" cy="589.8" r="1.3"/><circle cx="1341" cy="648.7" r="1.3"/><circle cx="1199" cy="668.2" r="1.4"/><circle cx="1270.2" cy="671.8" r="1.3"/>
</g>

<!-- ===== Signature ===== -->
<text x="1445" y="715" font-size="10.5" font-weight="bold" font-style="italic" style="font-family:'Liberation Serif','DejaVu Serif',serif" textLength="118" lengthAdjust="spacingAndGlyphs">Regenerated by Wolf Kim</text>
<text x="1470" y="729" font-size="7.5" textLength="90" lengthAdjust="spacingAndGlyphs">wolf_kim@hanmail.net</text>
<text x="1452" y="739.5" font-size="7.5" textLength="110" lengthAdjust="spacingAndGlyphs">blog.yes24.com/wolf_kim</text>
</svg>
</body></html>
